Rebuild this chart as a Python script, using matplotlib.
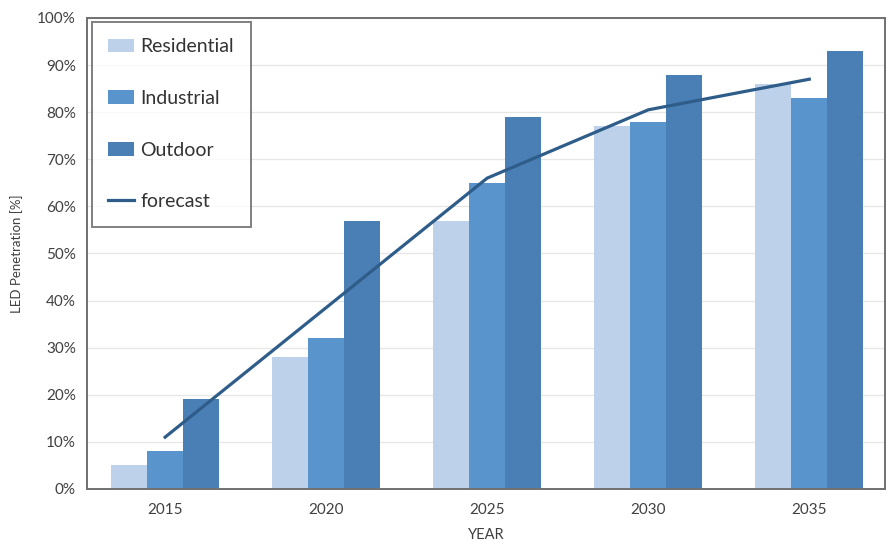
import numpy as np
import matplotlib.pyplot as plt
from matplotlib.ticker import PercentFormatter

plt.rcParams['font.family'] = ['Lato', 'DejaVu Sans']

years = ['2015', '2020', '2025', '2030', '2035']
residential = [5, 28, 57, 77, 86]
industrial = [8, 32, 65, 78, 83]
outdoor = [19, 57, 79, 88, 93]
forecast = [11, 38.5, 66, 80.5, 87]

x = np.arange(len(years))
w = 0.224

fig = plt.figure(figsize=(8.93, 5.45), dpi=100)
ax = fig.add_axes([0.0974, 0.1028, 0.8936, 0.8642])

b1 = ax.bar(x - w, residential, w, color='#bdd1ea', label='Residential', zorder=2)
b2 = ax.bar(x, industrial, w, color='#5a94cc', label='Industrial', zorder=2)
b3 = ax.bar(x + w, outdoor, w, color='#4a7fb6', label='Outdoor', zorder=2)
l1, = ax.plot(x, forecast, color='#2f5d8a', linewidth=2.3, label='forecast', zorder=3)

ax.set_xlim(-0.485, 4.47)
ax.set_ylim(0, 100)
ax.set_yticks(np.arange(0, 101, 10))
ax.yaxis.set_major_formatter(PercentFormatter(decimals=0))
ax.set_xticks(x)
ax.set_xticklabels(years)
ax.tick_params(length=0, labelsize=11, colors='#404040', pad=8)
ax.tick_params(axis='x', pad=10)
ax.grid(axis='y', color='#e6e6e6', linewidth=0.9, zorder=0)
ax.set_axisbelow(True)
for s in ax.spines.values():
    s.set_color('#707070')
    s.set_linewidth(1.4)

ax.set_xlabel('YEAR', fontsize=10.5, color='#404040', labelpad=8)
ax.set_ylabel('LED Penetration [%]', fontsize=9.5, color='#404040', labelpad=10)

leg = ax.legend([b1, b2, b3, l1], ['Residential', 'Industrial', 'Outdoor', 'forecast'],
                loc='upper left', bbox_to_anchor=(0.006, 0.992), fontsize=14,
                frameon=True, fancybox=False, labelspacing=1.78, handlelength=1.3,
                handleheight=0.7, handletextpad=0.35, borderpad=0.85, borderaxespad=0)
leg.get_frame().set_edgecolor('#606060')
leg.get_frame().set_linewidth(1.4)
for t in leg.get_texts():
    t.set_color('#333333')

fig.savefig('out.png', dpi=100)
